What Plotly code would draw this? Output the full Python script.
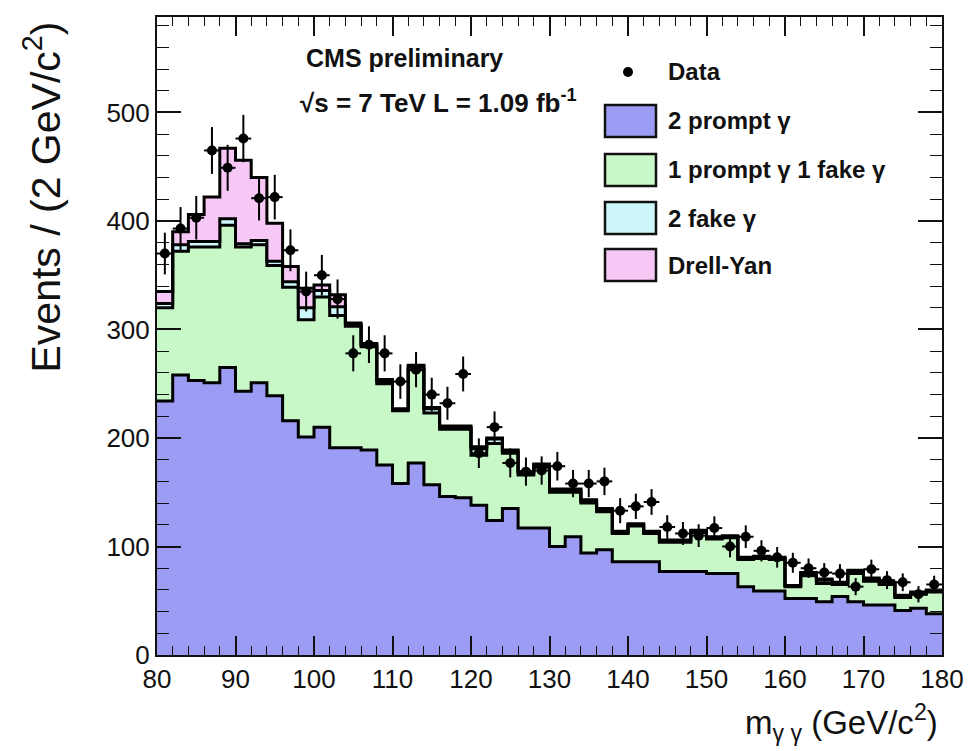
import numpy as np
import plotly.graph_objects as go

# Diphoton invariant mass, 2 GeV bins from 80 to 180 GeV
bin_edges = list(range(80, 182, 2))
bin_centers = [e + 1 for e in bin_edges[:-1]]

# Expected yields per bin for each component
prompt_2 = [234, 258, 253, 251, 265, 243, 251, 239, 216, 201,
            210, 191, 191, 189, 175, 158, 177, 157, 146, 145,
            138, 124, 135, 117, 117, 100, 109, 94, 97, 86,
            86, 86, 77, 77, 77, 75, 75, 63, 59, 59,
            52, 52, 49, 54, 49, 46, 46, 41, 43, 38]
prompt_1_fake_1 = [86, 114, 123, 125, 131, 133, 127, 120, 123, 108,
                   120, 122, 112, 95, 75, 67, 86, 66, 62, 63,
                   46, 71, 51, 49, 56, 50, 41, 46, 35, 26,
                   33, 26, 27, 27, 36, 32, 33, 25, 30, 29,
                   11, 21, 17, 11, 26, 22, 19, 12, 13, 20]
fake_2 = [4, 6, 5, 5, 6, 3, 4, 4, 5, 11,
          6, 8, 1, 2, 2, 1, 3, 4, 2, 2,
          6, 4, 2, 2, 2, 2, 2, 2, 2, 1,
          1, 1, 1, 1, 1, 1, 1, 1, 1, 1,
          1, 2, 3, 1, 2, 2, 1, 1, 1, 1]
drell_yan = [11, 12, 25, 41, 65, 77, 58, 35, 14, 18,
             5, 11, 2, 1, 2, 1, 1, 1, 1, 1,
             2, 1, 1, 1, 1, 1, 1, 1, 1, 1,
             1, 1, 1, 1, 1, 1, 1, 1, 1, 1,
             0, 1, 1, 1, 1, 1, 1, 1, 1, 1]

# Observed events per bin
data_counts = [370, 393, 403, 465, 449, 476, 421, 422, 373, 335,
               350, 328, 278, 286, 278, 252, 263, 240, 232, 259,
               186, 210, 177, 169, 170, 174, 158, 158, 160, 133,
               137, 141, 118, 112, 110, 117, 100, 109, 96, 90,
               85, 80, 76, 75, 63, 79, 69, 67, 56, 65]

components = [
    ("2 prompt γ", prompt_2, "#9c9cf5"),
    ("1 prompt γ 1 fake γ", prompt_1_fake_1, "#c8f7c8"),
    ("2 fake γ", fake_2, "#cdf7fa"),
    ("Drell-Yan", drell_yan, "#f7c8f5"),
]

FONT = "Liberation Sans, Arial, sans-serif"

fig = go.Figure()

running = np.zeros(len(bin_centers))
for i, (name, values, color) in enumerate(components):
    running = running + np.array(values, dtype=float)
    step_y = list(running) + [running[-1]]
    fig.add_trace(go.Scatter(
        x=bin_edges, y=step_y, mode="lines", line_shape="hv",
        line=dict(color="black", width=3),
        fill="tozeroy" if i == 0 else "tonexty",
        fillcolor=color, name=name, showlegend=False, hoverinfo="skip",
    ))

fig.add_trace(go.Scatter(
    x=bin_centers, y=data_counts, mode="markers",
    marker=dict(color="black", size=10),
    error_y=dict(type="data", array=list(np.sqrt(data_counts)),
                 thickness=2, width=0, color="black"),
    error_x=dict(type="constant", value=1, thickness=2, width=0, color="black"),
    name="Data", showlegend=False,
))

# Plot area geometry in pixels
W, H = 975, 751
L, R, T, B = 157, 33, 17, 96
pw, ph = W - L - R, H - T - B


def px(xp):
    return (xp - L) / pw


def py(yp):
    return (H - B - yp) / ph


shapes = []
annotations = []

# Legend
legend_rows = [
    ("Data", 72, None),
    ("2 prompt γ", 121, components[0][2]),
    ("1 prompt γ 1 fake γ", 170, components[1][2]),
    ("2 fake γ", 218, components[2][2]),
    ("Drell-Yan", 265, components[3][2]),
]
for label, yc, color in legend_rows:
    if color is None:
        shapes.append(dict(type="circle", xref="paper", yref="paper",
                           xsizemode="pixel", ysizemode="pixel",
                           xanchor=px(628), yanchor=py(yc),
                           x0=-5, x1=5, y0=-5, y1=5,
                           fillcolor="black", line=dict(width=0)))
    else:
        shapes.append(dict(type="rect", xref="paper", yref="paper",
                           x0=px(605), x1=px(656), y0=py(yc + 16), y1=py(yc - 16),
                           fillcolor=color, line=dict(color="#111", width=2.5)))
    annotations.append(dict(xref="paper", yref="paper", x=px(666), y=py(yc),
                            xanchor="left", yanchor="middle", showarrow=False,
                            text=f"<b>{label}</b>",
                            font=dict(family=FONT, size=24, color="#111")))

annotations.append(dict(xref="paper", yref="paper", x=px(304), y=py(58),
                        xanchor="left", yanchor="middle", showarrow=False,
                        text="<b>CMS preliminary</b>",
                        font=dict(family=FONT, size=25, color="#111")))
annotations.append(dict(xref="paper", yref="paper", x=px(298), y=py(101),
                        xanchor="left", yanchor="middle", showarrow=False,
                        text="<b>√s = 7 TeV L = 1.09 fb<sup>-1</sup></b>",
                        font=dict(family=FONT, size=26, color="#111")))

# Axis titles
annotations.append(dict(xref="paper", yref="paper", x=px(940), y=py(722),
                        xanchor="right", yanchor="middle", showarrow=False,
                        text="m<sub>γ γ</sub> (GeV/c<sup>2</sup>)",
                        font=dict(family=FONT, size=33, color="#111")))
annotations.append(dict(xref="paper", yref="paper", x=px(43), y=py(20),
                        xanchor="center", yanchor="top", showarrow=False,
                        textangle=-90,
                        text="Events / (2 GeV/c<sup>2</sup>)",
                        font=dict(family=FONT, size=41, color="#111")))

fig.update_layout(
    width=W, height=H,
    margin=dict(l=L, r=R, t=T, b=B, pad=0),
    paper_bgcolor="white", plot_bgcolor="white",
    shapes=shapes, annotations=annotations,
    showlegend=False,
)

fig.update_xaxes(
    range=[80, 180], tickvals=list(range(80, 181, 10)),
    ticks="inside", ticklen=19, tickwidth=1.5, tickcolor="#111",
    minor=dict(dtick=2, ticks="inside", ticklen=9, tickwidth=1.2, tickcolor="#111"),
    showline=True, linecolor="#111", linewidth=2, mirror="ticks",
    showgrid=False, zeroline=False,
    tickfont=dict(family=FONT, size=26, color="#111"),
)
fig.update_yaxes(
    range=[0, 588], tickvals=list(range(0, 501, 100)),
    ticks="inside", ticklen=24, tickwidth=1.5, tickcolor="#111",
    minor=dict(dtick=20, ticks="inside", ticklen=12, tickwidth=1.2, tickcolor="#111"),
    showline=True, linecolor="#111", linewidth=2, mirror="ticks",
    showgrid=False, zeroline=False,
    tickfont=dict(family=FONT, size=26, color="#111"),
)

fig.write_html("out.html")
